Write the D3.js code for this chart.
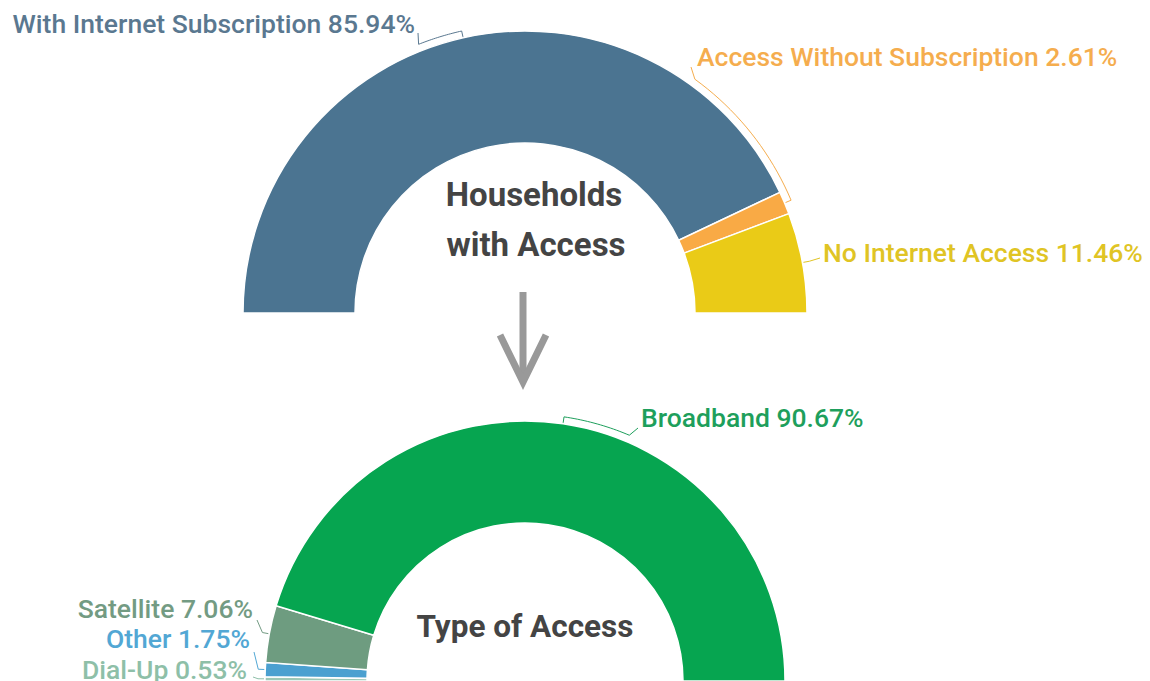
<!DOCTYPE html>
<html>
<head>
<meta charset="utf-8">
<script src="https://cdn.jsdelivr.net/npm/d3@7"></script>
<style>
  body { margin: 0; background: #fff; }
  text { font-family: Roboto, "Noto Sans", sans-serif; }
</style>
</head>
<body>
<svg id="chart"></svg>
<script>
// Households with internet access
var accessCats = ["With Internet Subscription", "Access Without Subscription", "No Internet Access"];
var accessVals = [85.94, 2.61, 11.46];
// Type of access (left to right)
var typeCats = ["Dial-Up", "Other", "Satellite", "Broadband"];
var typeVals = [0.53, 1.75, 7.06, 90.67];

var width = 1150, height = 681;

var svg = d3.select("#chart")
    .attr("width", width)
    .attr("height", height);

var radians = Math.PI / 180;

// fill / label colours per slice
var accessFill = ["#4b7491", "#f9aa45", "#eacb17"];
var accessText = ["#5a7890", "#f5ad4e", "#e0c424"];
var typeFill = ["#9cc7b6", "#4ba0d0", "#6e9c80", "#06a550"];
var typeText = ["#8ebfa8", "#52a7d4", "#739b83", "#1e9f5c"];

// label placement: text anchor point, where leader bends (deg) and ends
var accessLabels = [
    { x: 415, y: 33, anchor: "end", bend: -21.6, end: [418, 33] },
    { x: 697, y: 66, anchor: "start", bend: 36, end: [691, 67] },
    { x: 823, y: 262, anchor: "start", bend: null, end: [820, 258] }
];
var typeLabels = [
    { x: 247, y: 679, anchor: "end", bend: null, end: [253, 677] },
    { x: 250, y: 648, anchor: "end", bend: null, end: [254, 652] },
    { x: 253, y: 618, anchor: "end", bend: null, end: [257, 620] },
    { x: 641, y: 427, anchor: "start", bend: 23, end: [638, 428] }
];

function halfDonut(cx, cy, outer, inner, cats, vals, fills, texts, labels) {
    var g = svg.append("g")
        .attr("transform", `translate(${cx}, ${cy})`);

    var pie = d3.pie()
        .sort(null)
        .startAngle(-Math.PI / 2)
        .endAngle(Math.PI / 2)
        .value(function(d) { return d; });

    var arcs = pie(vals);

    var arcGenerator = d3.arc()
        .innerRadius(inner)
        .outerRadius(outer);

    g.selectAll(".slice")
        .data(arcs)
        .enter()
        .append("path")
        .attr("class", "slice")
        .attr("d", arcGenerator)
        .attr("fill", function(d, i) { return fills[i]; })
        .attr("stroke", "#fff")
        .attr("stroke-width", 1.5);

    function pt(angle, r) {
        return [r * Math.sin(angle), -r * Math.cos(angle)];
    }

    var line = d3.line();
    var off = 7;

    arcs.forEach(function(d, i) {
        var lab = labels[i];
        var mid = (d.startAngle + d.endAngle) / 2;
        var pts = [pt(mid, outer + 1), pt(mid, outer + off)];
        if (lab.bend !== null) {
            var b = lab.bend * radians;
            d3.range(0, 1.0001, 0.05).forEach(function(t) {
                pts.push(pt(mid + (b - mid) * t, outer + off));
            });
        }
        pts.push([lab.end[0] - cx, lab.end[1] - cy]);

        g.append("path")
            .attr("d", line(pts))
            .attr("fill", "none")
            .attr("stroke", texts[i])
            .attr("stroke-width", 1);

        svg.append("text")
            .attr("x", lab.x)
            .attr("y", lab.y)
            .attr("text-anchor", lab.anchor)
            .style("font-size", "26.5px")
            .style("font-weight", 500)
            .attr("fill", texts[i])
            .text(cats[i] + " " + vals[i].toFixed(2) + "%");
    });
    return g;
}

halfDonut(525, 313, 282, 170, accessCats, accessVals, accessFill, accessText, accessLabels);
halfDonut(525, 681, 260, 158, typeCats, typeVals, typeFill, typeText, typeLabels);

// centre titles
var titles = [
    { x: 534, y: 206, t: "Households", size: 33 },
    { x: 536, y: 256, t: "with Access", size: 33 },
    { x: 525, y: 637, t: "Type of Access", size: 31.5 }
];
svg.selectAll(".title")
    .data(titles)
    .enter()
    .append("text")
    .attr("class", "title")
    .attr("x", function(d) { return d.x; })
    .attr("y", function(d) { return d.y; })
    .attr("text-anchor", "middle")
    .style("font-size", function(d) { return d.size + "px"; })
    .style("font-weight", 700)
    .attr("fill", "#444")
    .text(function(d) { return d.t; });

// arrow between the two charts
svg.append("line")
    .attr("x1", 523).attr("x2", 523)
    .attr("y1", 292).attr("y2", 382)
    .attr("stroke", "#999")
    .attr("stroke-width", 7);
svg.append("path")
    .attr("d", "M500,335 L523,382 L546,335")
    .attr("fill", "none")
    .attr("stroke", "#999")
    .attr("stroke-width", 7);
</script>
</body>
</html>
